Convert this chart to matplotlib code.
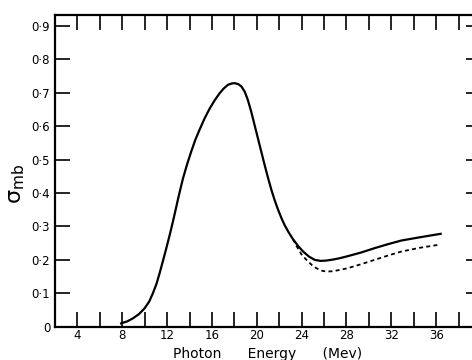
import numpy as np
from matplotlib import pyplot as plt

# lecturas de la grafica (curva continua)
energia = [7.9, 8.45, 8.95, 9.5, 9.99, 10.4, 10.73, 11.05, 11.33, 11.63, 11.93,
           12.25, 12.52, 12.76, 12.96, 13.2, 13.41, 13.8, 14.16, 14.5, 14.9, 15.35,
           15.8, 16.25, 16.69, 17.05, 17.43, 17.75, 18.03, 18.35, 18.63, 18.93,
           19.2, 19.5, 19.8, 20.1, 20.4, 20.7, 21.0, 21.3, 21.6, 21.9, 22.2, 22.5,
           22.85, 23.23, 23.7, 24.13, 24.65, 25.17, 25.7, 26.2, 26.8, 27.4, 28.1,
           29.3, 30.5, 31.7, 32.9, 34.6, 36.4]
sigma = [0.01, 0.016, 0.025, 0.038, 0.055, 0.075, 0.10, 0.128, 0.16, 0.197, 0.235,
         0.277, 0.315, 0.35, 0.38, 0.414, 0.443, 0.488, 0.525, 0.558, 0.59, 0.624,
         0.653, 0.678, 0.699, 0.713, 0.724, 0.728, 0.729, 0.726, 0.719, 0.703,
         0.679, 0.644, 0.604, 0.564, 0.524, 0.484, 0.446, 0.41, 0.378, 0.35, 0.325,
         0.303, 0.282, 0.262, 0.241, 0.225, 0.21, 0.2, 0.197, 0.198, 0.201, 0.205,
         0.211, 0.222, 0.235, 0.247, 0.258, 0.268, 0.278]

# curva punteada
energia_p = [23.23, 23.54, 23.95, 24.43, 24.9, 25.32, 25.75, 26.2, 26.8, 27.4,
             28.1, 29.3, 30.5, 31.7, 32.9, 34.5, 36.2]
sigma_p = [0.262, 0.242, 0.218, 0.2, 0.185, 0.175, 0.168, 0.165, 0.166, 0.17,
           0.175, 0.187, 0.2, 0.213, 0.225, 0.236, 0.245]

xticks = [4, 8, 12, 16, 20, 24, 28, 32, 36]
yticks = [0, 0.1, 0.2, 0.3, 0.4, 0.5, 0.6, 0.7, 0.8, 0.9]
ylabels = ['0'] + ['0\u00b7' + str(i) for i in range(1, 10)]

plt.rcParams['font.family'] = ['DejaVu Sans']
plt.rcParams['mathtext.default'] = 'regular'
fig = plt.figure(figsize=(4.72, 3.6), dpi=100)
ax = fig.add_axes([55/472, 33.3/360, 426/472, 311.7/360])

ax.plot(energia, sigma, color='black', lw=1.6)
ax.plot(energia_p, sigma_p, color='black', lw=1.3, linestyle=(0, (2.2, 1.8)))

ax.set_xlim(2, 40)
ax.set_ylim(0, 0.933)
ax.set_xticks(xticks)
ax.set_xticks(np.arange(2, 40, 2), minor=True)
ax.set_yticks(yticks)
ax.set_yticklabels(ylabels)

ax.tick_params(axis='both', which='both', direction='in', length=11, width=1.2,
               top=True, right=True, labelsize=8.5)
ax.tick_params(axis='x', pad=2)
for s in ax.spines.values():
    s.set_linewidth(1.6)
ax.spines['right'].set_visible(False)

ax.set_xlabel('Photon      Energy      (Mev)', fontsize=10, labelpad=3)
ax.set_ylabel(r'$\sigma_{mb}$', fontsize=16)
ax.yaxis.set_label_coords(-0.065, 0.46)

fig.savefig('out.png', dpi=100)
